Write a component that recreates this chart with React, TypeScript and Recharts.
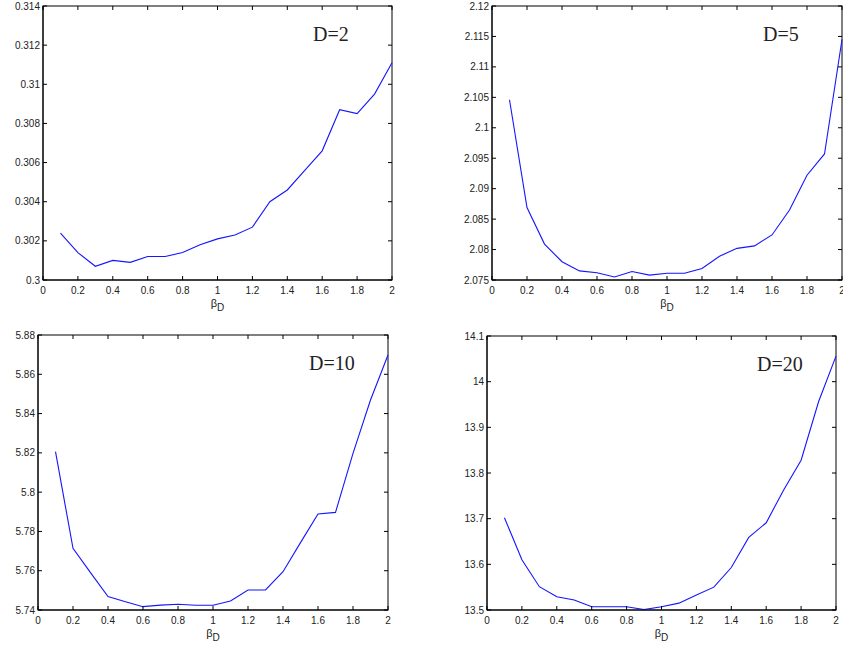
import React from 'react';
import { LineChart, Line, XAxis, YAxis, Customized } from 'recharts';

const betaD = [0.1, 0.2, 0.3, 0.4, 0.5, 0.6, 0.7, 0.8, 0.9, 1.0, 1.1, 1.2, 1.3, 1.4, 1.5, 1.6, 1.7, 1.8, 1.9, 2.0];
const valuesD2 = [0.3024, 0.3014, 0.3007, 0.3010, 0.3009, 0.3012, 0.3012, 0.3014, 0.3018, 0.3021, 0.3023, 0.3027, 0.3040, 0.3046, 0.3056, 0.3066, 0.3087, 0.3085, 0.3095, 0.3111];
const valuesD5 = [2.1046, 2.0869, 2.0809, 2.0780, 2.0765, 2.0762, 2.0755, 2.0764, 2.0758, 2.0761, 2.0761, 2.0769, 2.0789, 2.0802, 2.0806, 2.0824, 2.0865, 2.0922, 2.0957, 2.1145];
const valuesD10 = [5.8206, 5.7714, 5.7590, 5.7468, 5.7442, 5.7417, 5.7425, 5.7429, 5.7424, 5.7424, 5.7446, 5.7502, 5.7502, 5.7595, 5.7743, 5.7889, 5.7897, 5.8197, 5.8469, 5.8698];
const valuesD20 = [13.702, 13.610, 13.551, 13.529, 13.522, 13.507, 13.507, 13.507, 13.501, 13.507, 13.515, 13.533, 13.550, 13.593, 13.659, 13.691, 13.763, 13.828, 13.956, 14.056];

const xTicks = [0, 0.2, 0.4, 0.6, 0.8, 1, 1.2, 1.4, 1.6, 1.8, 2];
const yTicksD2 = [0.3, 0.302, 0.304, 0.306, 0.308, 0.31, 0.312, 0.314];
const yTicksD5 = [2.075, 2.08, 2.085, 2.09, 2.095, 2.1, 2.105, 2.11, 2.115, 2.12];
const yTicksD10 = [5.74, 5.76, 5.78, 5.8, 5.82, 5.84, 5.86, 5.88];
const yTicksD20 = [13.5, 13.6, 13.7, 13.8, 13.9, 14, 14.1];
const panelTitles = ['D=2', 'D=5', 'D=10', 'D=20'];
const xLabelMain = 'β';
const xLabelSub = 'D';

type PanelProps = {
  left: number; top: number; width: number; height: number;
  plotLeft: number; plotRight: number; plotTop: number; plotBottom: number;
  values: number[]; yTicks: number[]; title: string;
};

const FONT = '"Liberation Sans", Arial, sans-serif';
const TICK_LEN = 4;

function Panel(p: PanelProps) {
  const data = betaD.map((b, i) => ({ x: b, y: p.values[i] }));
  const yDomain = [p.yTicks[0], p.yTicks[p.yTicks.length - 1]];
  const margin = { top: p.plotTop, left: 0, right: p.width - p.plotRight, bottom: 0 };
  const cx = (p.plotLeft + p.plotRight) / 2;

  const BottomTick = (t: any) => {
    const c = t.payload.coordinate;
    return (
      <g>
        <line x1={c} x2={c} y1={p.plotBottom} y2={p.plotBottom - TICK_LEN} stroke="#000" strokeWidth={1} />
        <line x1={c} x2={c} y1={p.plotTop} y2={p.plotTop + TICK_LEN} stroke="#000" strokeWidth={1} />
        <text x={c} y={p.plotBottom + 14} textAnchor="middle" fontSize={10} fill="#222" fontFamily={FONT}>{String(t.payload.value)}</text>
      </g>
    );
  };
  const LeftTick = (t: any) => {
    const c = t.payload.coordinate;
    return (
      <g>
        <line x1={p.plotLeft} x2={p.plotLeft + TICK_LEN} y1={c} y2={c} stroke="#000" strokeWidth={1} />
        <line x1={p.plotRight} x2={p.plotRight - TICK_LEN} y1={c} y2={c} stroke="#000" strokeWidth={1} />
        <text x={p.plotLeft - 3} y={c + 3.5} textAnchor="end" fontSize={10} fill="#222" fontFamily={FONT}>{String(t.payload.value)}</text>
      </g>
    );
  };

  const Overlay = () => (
    <g>
      <rect x={p.plotLeft} y={p.plotTop} width={p.plotRight - p.plotLeft} height={p.plotBottom - p.plotTop}
        fill="none" stroke="#000" strokeWidth={1} />
      <text x={p.plotRight - 79} y={p.plotTop + 35} fontSize={20} fill="#222" fontFamily='"Liberation Serif", "Times New Roman", serif'>{p.title}</text>
      <text x={cx} y={p.plotBottom + 27} textAnchor="middle" fontSize={11} fill="#222" fontFamily={FONT}>
        {xLabelMain}<tspan dy={4} fontSize={10}>{xLabelSub}</tspan>
      </text>
    </g>
  );
  return (
    <div style={{ position: 'absolute', left: p.left, top: p.top }}>
      <LineChart width={p.width} height={p.height} data={data} margin={margin}>
        <XAxis dataKey="x" type="number" domain={[0, 2]} ticks={xTicks} interval={0}
          height={p.height - p.plotBottom} tickLine={false} stroke="#000" tick={BottomTick} />
        <YAxis type="number" domain={yDomain} ticks={p.yTicks} interval={0} width={p.plotLeft}
          tickLine={false} stroke="#000" tick={LeftTick} allowDataOverflow />
        <Line type="linear" dataKey="y" stroke="#1515ff" strokeWidth={1.1} dot={false} isAnimationActive={false} />
        <Customized component={<Overlay />} />
      </LineChart>
    </div>
  );
}

export default function App() {
  return (
    <div style={{ position: 'absolute', left: 0, top: 0, width: 843, height: 647, background: '#fff', overflow: 'hidden' }}>
      <Panel left={0} top={0} width={420} height={320} plotLeft={43} plotRight={392} plotTop={6} plotBottom={280}
        values={valuesD2} yTicks={yTicksD2} title={panelTitles[0]} />
      <Panel left={420} top={0} width={423} height={320} plotLeft={72} plotRight={422} plotTop={6} plotBottom={280}
        values={valuesD5} yTicks={yTicksD5} title={panelTitles[1]} />
      <Panel left={0} top={320} width={420} height={327} plotLeft={38} plotRight={388} plotTop={15} plotBottom={290}
        values={valuesD10} yTicks={yTicksD10} title={panelTitles[2]} />
      <Panel left={420} top={320} width={423} height={327} plotLeft={67} plotRight={416} plotTop={16} plotBottom={290}
        values={valuesD20} yTicks={yTicksD20} title={panelTitles[3]} />
    </div>
  );
}
